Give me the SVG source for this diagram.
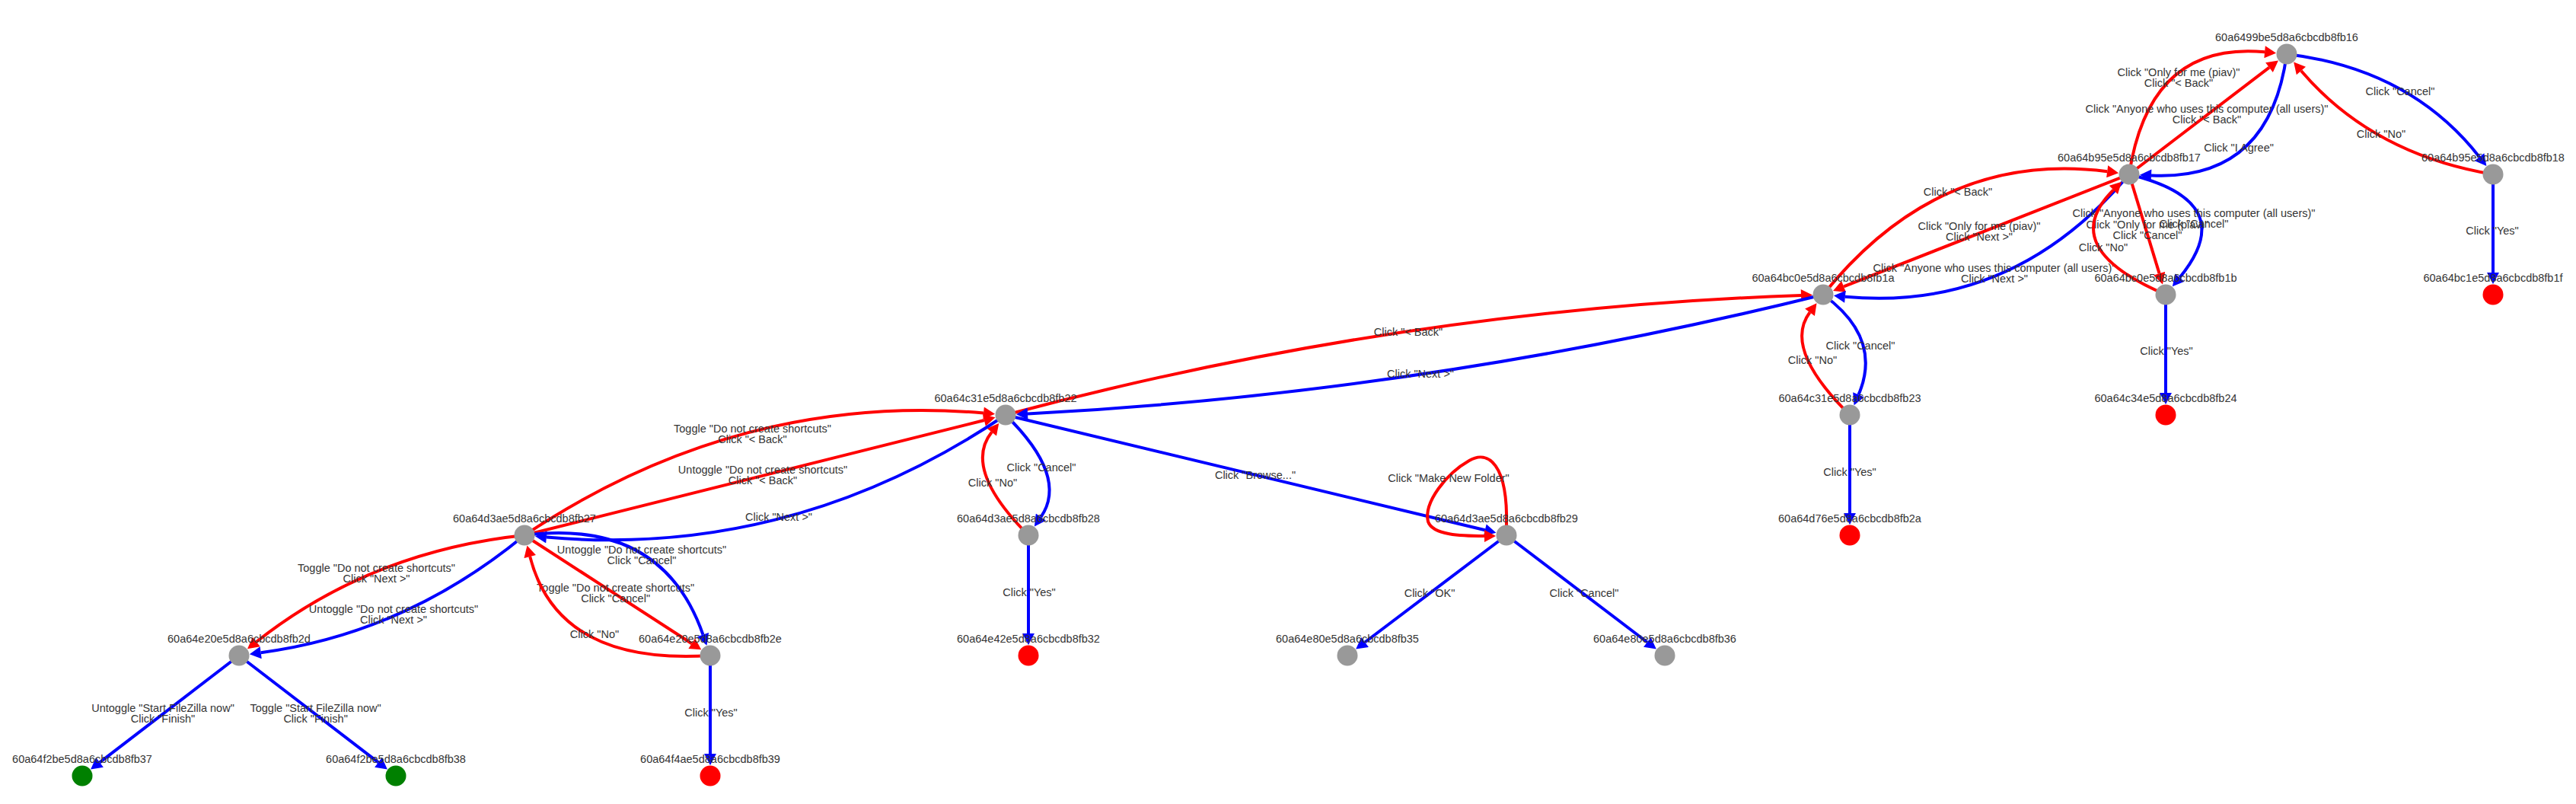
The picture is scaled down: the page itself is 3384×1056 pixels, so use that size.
<svg xmlns="http://www.w3.org/2000/svg" width="3384" height="1056" viewBox="0 0 3384 1056">
<style>
.e{fill:none;stroke-width:4}
.r{stroke:#ff0000;marker-end:url(#ar)}
.b{stroke:#0000ff;marker-end:url(#ab)}
text{font-family:"Liberation Sans",Arial,sans-serif;font-size:14.5px;fill:#343434;text-anchor:middle}
.n{fill:#999999}
.nr{fill:#ff0000}
.ng{fill:#008000}
</style>
<defs>
<marker id="ar" markerUnits="userSpaceOnUse" markerWidth="16" markerHeight="16" viewBox="0 0 15 16" refX="0" refY="8" orient="auto"><path d="M0,0 L15,8 L0,16 z" fill="#ff0000"/></marker>
<marker id="ab" markerUnits="userSpaceOnUse" markerWidth="16" markerHeight="16" viewBox="0 0 15 16" refX="0" refY="8" orient="auto"><path d="M0,0 L15,8 L0,16 z" fill="#0000ff"/></marker>
</defs>
<rect width="3384" height="1056" fill="#ffffff"/>
<g id="connectors">
<g id="e1"><path class="e b" d="M3004,71 Q3166.5,90.5 3257.1,206.2"/><text x="3153" y="125">Click "Cancel"</text></g>
<g id="e2"><path class="e r" d="M3275,229 Q3116.5,202.5 3022.9,93"/><text x="3128" y="181">Click "No"</text></g>
<g id="e3"><path class="e b" d="M3004,71 Q2981.5,238 2826,230.4"/><text x="2941" y="199">Click "I Agree"</text></g>
<g id="e4"><path class="e r" d="M2797,229 Q2823.5,54 2975.1,68.3"/><text x="2862" y="100">Click "Only for me (piav)"<tspan x="2862" dy="14">Click "&lt; Back"</tspan></text></g>
<g id="e5"><path class="e r" d="M2797,229 L2981,88.6"/><text x="2899" y="148">Click "Anyone who uses this computer (all users)"<tspan x="2899" dy="14">Click "&lt; Back"</tspan></text></g>
<g id="e6"><path class="e r" d="M2395,387 Q2548,196.5 2768.2,225.2"/><text x="2572" y="257">Click "&lt; Back"</text></g>
<g id="e7"><path class="e r" d="M2797,229 L2422,376.4"/><text x="2600" y="302">Click "Only for me (piav)"<tspan x="2600" dy="14">Click "Next &gt;"</tspan></text></g>
<g id="e8"><path class="e b" d="M2797,229 Q2644,410.5 2423.9,389.7"/><text x="2620" y="357">Click "Anyone who uses this computer (all users)"<tspan x="2620" dy="14">Click "Next &gt;"</tspan></text></g>
<g id="e9"><path class="e r" d="M2797,229 L2836.6,359.2"/><text x="2821" y="300">Click "Only for me (piav)"<tspan x="2821" dy="14">Click "Cancel"</tspan></text></g>
<g id="e10"><path class="e b" d="M2797,229 Q2945,265 2863.4,364.6"/><text x="2882" y="285">Click "Anyone who uses this computer (all users)"<tspan x="2882" dy="14">Click "Cancel"</tspan></text></g>
<g id="e11"><path class="e r" d="M2845,387 Q2700,325 2776.4,249.4"/><text x="2763" y="330">Click "No"</text></g>
<g id="e12"><path class="e b" d="M2845,387 L2845,516"/><text x="2846" y="466">Click "Yes"</text></g>
<g id="e13"><path class="e b" d="M3275,229 L3275,358"/><text x="3274" y="308">Click "Yes"</text></g>
<g id="e14"><path class="e r" d="M1321,545 Q1842,406 2366,388"/><text x="1850" y="441">Click "&lt; Back"</text></g>
<g id="e15"><path class="e b" d="M2395,387 Q1874,516 1350,543.5"/><text x="1866" y="496">Click "Next &gt;"</text></g>
<g id="e16"><path class="e b" d="M2395,387 Q2473.5,444 2441.5,518.4"/><text x="2444" y="459">Click "Cancel"</text></g>
<g id="e17"><path class="e r" d="M2430,545 Q2341.5,458 2377.5,410.2"/><text x="2381" y="478">Click "No"</text></g>
<g id="e18"><path class="e b" d="M2430,545 L2430,674"/><text x="2430" y="625">Click "Yes"</text></g>
<g id="e19"><path class="e b" d="M1321,545 Q1404,626 1367.4,679.1"/><text x="1368" y="619">Click "Cancel"</text></g>
<g id="e20"><path class="e r" d="M1351,703 Q1264,616 1302.8,567.6"/><text x="1304" y="638.5">Click "No"</text></g>
<g id="e21"><path class="e b" d="M1351,703 L1351,832"/><text x="1352" y="783">Click "Yes"</text></g>
<g id="e22"><path class="e b" d="M1321,545 L1950.8,696.2"/><text x="1649" y="628.5">Click "Browse..."</text></g>
<g id="e23"><path class="e r" d="M1979,690 C1981,610 1955,590 1930,605 C1900,622 1870,660 1876,685 C1882,703 1920,704 1950,704"/><text x="1903" y="632.5">Click "Make New Folder"</text></g>
<g id="e24"><path class="e b" d="M1979,703 L1793.1,843.5"/><text x="1878" y="784">Click "OK"</text></g>
<g id="e25"><path class="e b" d="M1979,703 L2163.9,843.5"/><text x="2081" y="784">Click "Cancel"</text></g>
<g id="e26"><path class="e r" d="M689,703 Q971,515 1292.1,542.5"/><text x="988.5" y="567.5">Toggle "Do not create shortcuts"<tspan x="988.5" dy="14">Click "&lt; Back"</tspan></text></g>
<g id="e27"><path class="e r" d="M689,703 L1292.9,552"/><text x="1002" y="622.4">Untoggle "Do not create shortcuts"<tspan x="1002" dy="14">Click "&lt; Back"</tspan></text></g>
<g id="e28"><path class="e b" d="M1321,545 Q1041,734 717.9,705.5"/><text x="1023" y="684">Click "Next &gt;"</text></g>
<g id="e29"><path class="e r" d="M689,703 Q487.5,724 336.8,843"/><text x="494.5" y="751">Toggle "Do not create shortcuts"<tspan x="494.5" dy="14">Click "Next &gt;"</tspan></text></g>
<g id="e30"><path class="e b" d="M689,703 Q532.5,832 342.7,857.2"/><text x="517" y="805">Untoggle "Do not create shortcuts"<tspan x="517" dy="14">Click "Next &gt;"</tspan></text></g>
<g id="e31"><path class="e b" d="M689,703 Q870,680 923.5,833.6"/><text x="843" y="727">Untoggle "Do not create shortcuts"<tspan x="843" dy="14">Click "Cancel"</tspan></text></g>
<g id="e32"><path class="e r" d="M689,703 L908.7,845.2"/><text x="808.6" y="777">Toggle "Do not create shortcuts"<tspan x="808.6" dy="14">Click "Cancel"</tspan></text></g>
<g id="e33"><path class="e r" d="M933,861 Q733,874 696.2,731.1"/><text x="781" y="838">Click "No"</text></g>
<g id="e34"><path class="e b" d="M933,861 L933,990"/><text x="934" y="941">Click "Yes"</text></g>
<g id="e35"><path class="e b" d="M314,861 L131,1001.35"/><text x="214" y="935">Untoggle "Start FileZilla now"<tspan x="214" dy="14">Click "Finish"</tspan></text></g>
<g id="e36"><path class="e b" d="M314,861 L497,1001.35"/><text x="414.6" y="935">Toggle "Start FileZilla now"<tspan x="414.6" dy="14">Click "Finish"</tspan></text></g>
</g>
<g id="nodes">
<g id="n-60a6499be5d8a6cbcdb8fb16"><circle class="n" cx="3004" cy="71" r="13.5"/><text x="3004" y="54">60a6499be5d8a6cbcdb8fb16</text></g>
<g id="n-60a64b95e5d8a6cbcdb8fb17"><circle class="n" cx="2797" cy="229" r="13.5"/><text x="2797" y="212">60a64b95e5d8a6cbcdb8fb17</text></g>
<g id="n-60a64b95e5d8a6cbcdb8fb18"><circle class="n" cx="3275" cy="229" r="13.5"/><text x="3275" y="212">60a64b95e5d8a6cbcdb8fb18</text></g>
<g id="n-60a64bc0e5d8a6cbcdb8fb1a"><circle class="n" cx="2395" cy="387" r="13.5"/><text x="2395" y="370">60a64bc0e5d8a6cbcdb8fb1a</text></g>
<g id="n-60a64bc0e5d8a6cbcdb8fb1b"><circle class="n" cx="2845" cy="387" r="13.5"/><text x="2845" y="370">60a64bc0e5d8a6cbcdb8fb1b</text></g>
<g id="n-60a64bc1e5d8a6cbcdb8fb1f"><circle class="nr" cx="3275" cy="387" r="13.5"/><text x="3275" y="370">60a64bc1e5d8a6cbcdb8fb1f</text></g>
<g id="n-60a64c31e5d8a6cbcdb8fb22"><circle class="n" cx="1321" cy="545" r="13.5"/><text x="1321" y="528">60a64c31e5d8a6cbcdb8fb22</text></g>
<g id="n-60a64c31e5d8a6cbcdb8fb23"><circle class="n" cx="2430" cy="545" r="13.5"/><text x="2430" y="528">60a64c31e5d8a6cbcdb8fb23</text></g>
<g id="n-60a64c34e5d8a6cbcdb8fb24"><circle class="nr" cx="2845" cy="545" r="13.5"/><text x="2845" y="528">60a64c34e5d8a6cbcdb8fb24</text></g>
<g id="n-60a64d3ae5d8a6cbcdb8fb27"><circle class="n" cx="689" cy="703" r="13.5"/><text x="689" y="686">60a64d3ae5d8a6cbcdb8fb27</text></g>
<g id="n-60a64d3ae5d8a6cbcdb8fb28"><circle class="n" cx="1351" cy="703" r="13.5"/><text x="1351" y="686">60a64d3ae5d8a6cbcdb8fb28</text></g>
<g id="n-60a64d3ae5d8a6cbcdb8fb29"><circle class="n" cx="1979" cy="703" r="13.5"/><text x="1979" y="686">60a64d3ae5d8a6cbcdb8fb29</text></g>
<g id="n-60a64d76e5d8a6cbcdb8fb2a"><circle class="nr" cx="2430" cy="703" r="13.5"/><text x="2430" y="686">60a64d76e5d8a6cbcdb8fb2a</text></g>
<g id="n-60a64e20e5d8a6cbcdb8fb2d"><circle class="n" cx="314" cy="861" r="13.5"/><text x="314" y="844">60a64e20e5d8a6cbcdb8fb2d</text></g>
<g id="n-60a64e20e5d8a6cbcdb8fb2e"><circle class="n" cx="933" cy="861" r="13.5"/><text x="933" y="844">60a64e20e5d8a6cbcdb8fb2e</text></g>
<g id="n-60a64e42e5d8a6cbcdb8fb32"><circle class="nr" cx="1351" cy="861" r="13.5"/><text x="1351" y="844">60a64e42e5d8a6cbcdb8fb32</text></g>
<g id="n-60a64e80e5d8a6cbcdb8fb35"><circle class="n" cx="1770" cy="861" r="13.5"/><text x="1770" y="844">60a64e80e5d8a6cbcdb8fb35</text></g>
<g id="n-60a64e80e5d8a6cbcdb8fb36"><circle class="n" cx="2187" cy="861" r="13.5"/><text x="2187" y="844">60a64e80e5d8a6cbcdb8fb36</text></g>
<g id="n-60a64f2be5d8a6cbcdb8fb37"><circle class="ng" cx="108" cy="1019" r="13.5"/><text x="108" y="1002">60a64f2be5d8a6cbcdb8fb37</text></g>
<g id="n-60a64f2be5d8a6cbcdb8fb38"><circle class="ng" cx="520" cy="1019" r="13.5"/><text x="520" y="1002">60a64f2be5d8a6cbcdb8fb38</text></g>
<g id="n-60a64f4ae5d8a6cbcdb8fb39"><circle class="nr" cx="933" cy="1019" r="13.5"/><text x="933" y="1002">60a64f4ae5d8a6cbcdb8fb39</text></g>
</g>
</svg>
